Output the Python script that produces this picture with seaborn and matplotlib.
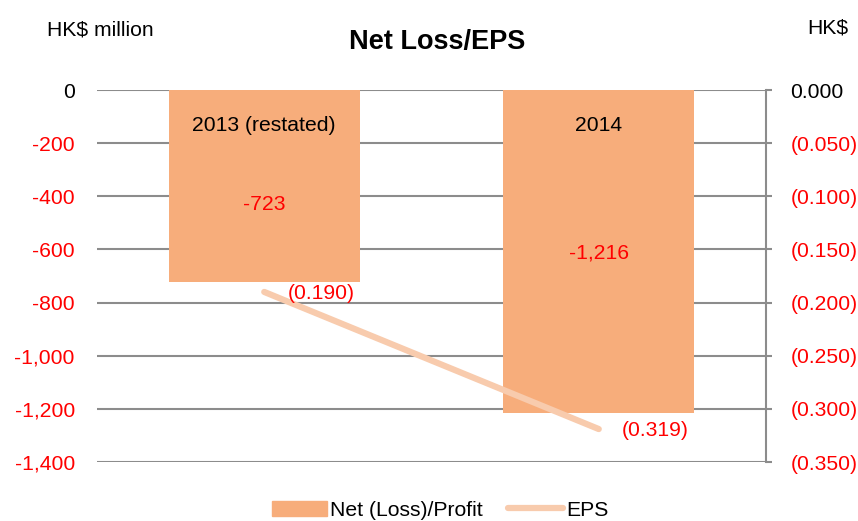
import matplotlib
matplotlib.use("Agg")
import matplotlib.pyplot as plt
import seaborn as sns
import pandas as pd
from matplotlib.lines import Line2D
from matplotlib.patches import Patch

years = ["2013 (restated)", "2014"]
net_loss = [-723, -1216]
eps = [-0.190, -0.319]
left_ticks = [0, -200, -400, -600, -800, -1000, -1200, -1400]
right_ticks = [0.0, -0.05, -0.10, -0.15, -0.20, -0.25, -0.30, -0.35]

bar_color = "#F7AD7B"
line_color = "#F8CBAD"
grid_color = "#8C8C8C"
fs = 15.2

sns.set_theme(style="white")
plt.rcParams["font.family"] = ["Liberation Sans", "DejaVu Sans"]
plt.rcParams["text.color"] = "black"

df = pd.DataFrame({"year": years, "net": net_loss, "eps": eps})

fig = plt.figure(figsize=(8.58, 5.21), dpi=100)
ax = fig.add_axes([97 / 858, 1 - 462 / 521, (766 - 97) / 858, (462 - 90) / 521])

for y in left_ticks:
    ax.axhline(y, color=grid_color, lw=1.5, zorder=0)
sns.barplot(data=df, x="year", y="net", color=bar_color, saturation=1,
            width=0.57, ax=ax, edgecolor=bar_color, linewidth=0)
for p in ax.patches:
    p.set_zorder(2)
ax.set_xlim(-0.5, 1.5)
ax.set_ylim(-1400, 0)
ax.set_yticks(left_ticks)
ax.set_yticklabels([f"{v:,}" for v in left_ticks], fontsize=fs)
for lab, v in zip(ax.get_yticklabels(), left_ticks):
    lab.set_color("black" if v == 0 else "red")
ax.tick_params(axis="y", length=0, pad=16)
ax.set_xticks([])
ax.set_xlabel("")
ax.set_ylabel("")
for s in ["left", "top", "bottom", "right"]:
    ax.spines[s].set_visible(False)

# labels inside bars
label_y = [-430, -615]
for i, (yr, v) in enumerate(zip(years, net_loss)):
    ax.text(i, -135, yr, ha="center", va="center", fontsize=fs, color="black", zorder=4)
    ax.text(i, label_y[i], f"{v:,}", ha="center", va="center", fontsize=fs,
            color="red", zorder=4)

ax2 = ax.twinx()
sns.lineplot(x=[0, 1], y=eps, ax=ax2, color=line_color, lw=4.5,
             solid_capstyle="round", zorder=3)
ax2.set_ylim(-0.35, 0)
ax2.set_yticks(right_ticks)
ax2.set_yticklabels(["0.000" if v == 0 else f"({abs(v):.3f})" for v in right_ticks],
                    fontsize=fs)
for lab, v in zip(ax2.get_yticklabels(), right_ticks):
    lab.set_color("black" if v == 0 else "red")
ax2.tick_params(axis="y", right=True, length=4.5, width=1.5, color=grid_color, pad=13)
for s in ["left", "top", "bottom"]:
    ax2.spines[s].set_visible(False)
ax2.spines["right"].set_color(grid_color)
ax2.spines["right"].set_linewidth(1.5)
ax2.set_xlim(-0.5, 1.5)

for i, v in enumerate(eps):
    ax2.text(i + 0.17, v - 0.001, f"({abs(v):.3f})", ha="center", va="center",
             fontsize=fs, color="red")

fig.text(47 / 858, 1 - 30 / 521, "HK$ million", fontsize=fs, va="center", color="black")
fig.text(848 / 858, 1 - 28 / 521, "HK$", fontsize=fs, va="center", ha="right", color="black")
fig.text(437 / 858, 1 - 42 / 521, "Net Loss/EPS", fontsize=19.5, weight="bold",
         ha="center", va="center", color="black")

handles = [Patch(color=bar_color, label="Net (Loss)/Profit"),
           Line2D([0], [0], color=line_color, lw=4.5, label="EPS")]
leg = fig.legend(handles=handles, loc="center", bbox_to_anchor=(440 / 858, 1 - 510 / 521),
                 ncol=2, frameon=False, fontsize=fs, handlelength=2.6,
                 columnspacing=1.2, handletextpad=0.15)
for t in leg.get_texts():
    t.set_color("black")

fig.savefig("out.png", dpi=100)
